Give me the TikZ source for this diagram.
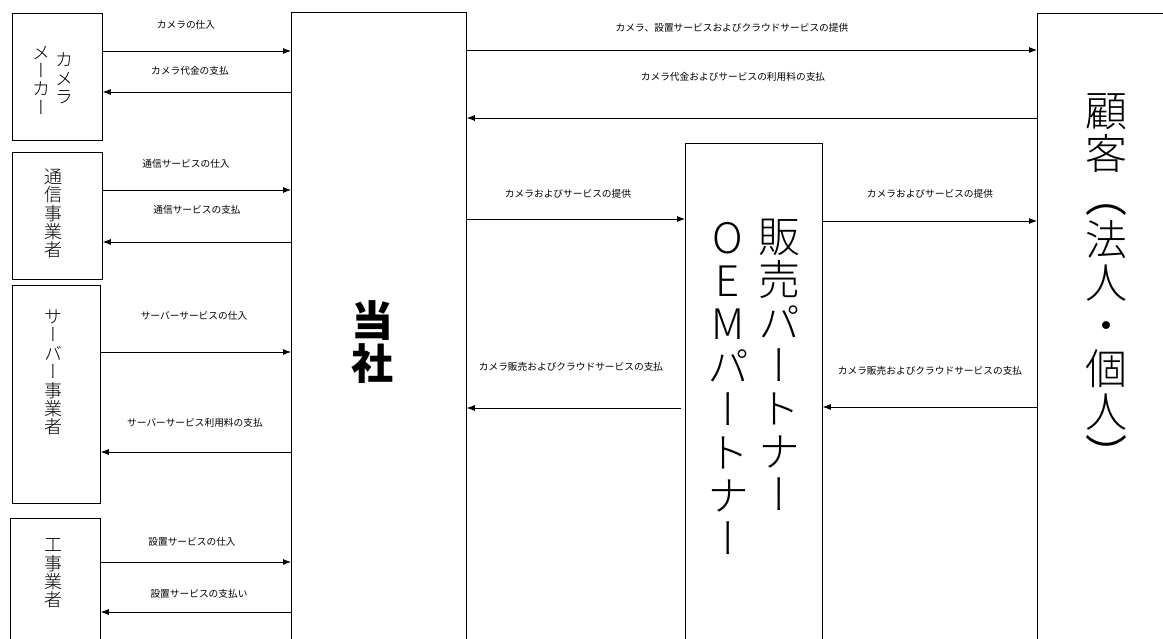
\documentclass[tikz,border=0pt]{standalone}
\usepackage{fontspec}
\usepackage{graphicx}
\usetikzlibrary{arrows.meta}
\newfontfamily\jp{Noto Sans CJK JP}
\newfontfamily\jpv[RawFeature=+vert]{Noto Sans CJK JP Light}
\newcommand\vparl{{\jp\rotatebox[origin=c]{-90}{（}}}
\newcommand\vparr{{\jp\rotatebox[origin=c]{-90}{）}}}
\tikzset{
  box/.style={draw, line width=0.8pt, anchor=north west, inner sep=0pt},
  vsmall/.style={align=center, inner sep=0pt, font=\jpv\fontsize{18}{18.4}\selectfont},
  vbig/.style={align=center, inner sep=0pt, font=\jpv\fontsize{42}{43}\selectfont},
  lbl/.style={inner sep=0pt, font=\jp\fontsize{9.7}{11}\selectfont},
  flow/.style={draw, line width=0.8pt, -{Latex[length=8pt,width=6pt]}}
}
\begin{document}
\begin{tikzpicture}[x=1pt, y=-1pt]
    \useasboundingbox (0,0) rectangle (1163,639);
    \clip (0,0) rectangle (1163,639);

    % Suppliers on the left
    \node[box, minimum width=90pt, minimum height=127pt] (maker) at (12,13) {};
    \node[box, minimum width=90pt, minimum height=127pt] (telco) at (12,152) {};
    \node[box, minimum width=88pt, minimum height=218pt] (server) at (12,285) {};
    \node[box, minimum width=90pt, minimum height=150pt] (works) at (10,518) {};

    \node[vsmall] (makerA) at (65,78.5) {カ\\メ\\ラ};
    \node[vsmall] (makerB) at (41,80) {メ\\ー\\カ\\ー};
    \node[vsmall] (telcoT) at (53,213.5) {通\\信\\事\\業\\者};
    \node[vsmall] (serverT) at (53,372.5) {サ\\ー\\バ\\ー\\事\\業\\者};
    \node[vsmall] (worksT) at (53,573.5) {工\\事\\業\\者};

    % Company, partner and customer
    \node[box, minimum width=175pt, minimum height=660pt] (self) at (291,12) {};
    \node[box, minimum width=137pt, minimum height=520pt] (partner) at (685,143) {};
    \node[box, minimum width=160pt, minimum height=660pt] (cust) at (1037,13) {};

    \node[vbig, font=\jp\bfseries\fontsize{42}{43}\selectfont] (selfT) at (372,342) {当\\社};
    \node[vbig] (partnerA) at (779,365) {販\\売\\パ\\ー\\ト\\ナ\\ー};
    \node[vbig] (partnerB) at (728,388) {O\\E\\M\\パ\\ー\\ト\\ナ\\ー};
    \node[vbig] (custT) at (1106,284.5) {顧\\客\\\vparl\\法\\人\\・\\個\\人\\\vparr};

    % Flows with the suppliers
    \draw[flow] (maker.east |- 0,51) -- (self.west |- 0,51);
    \draw[flow] (self.west |- 0,92) -- (maker.east |- 0,92);
    \draw[flow] (telco.east |- 0,190) -- (self.west |- 0,190);
    \draw[flow] (self.west |- 0,242) -- (telco.east |- 0,242);
    \draw[flow] (server.east |- 0,352) -- (self.west |- 0,352);
    \draw[flow] (self.west |- 0,452) -- (server.east |- 0,452);
    \draw[flow] (works.east |- 0,562) -- (self.west |- 0,562);
    \draw[flow] (self.west |- 0,612) -- (works.east |- 0,612);

    \node[lbl] (l1) at (186,25) {カメラの仕入};
    \node[lbl] (l2) at (190,71) {カメラ代金の支払};
    \node[lbl] (l3) at (186,164) {通信サービスの仕入};
    \node[lbl] (l4) at (197,210) {通信サービスの支払};
    \node[lbl] (l5) at (194,316) {サーバーサービスの仕入};
    \node[lbl] (l6) at (195,423) {サーバーサービス利用料の支払};
    \node[lbl] (l7) at (192,542) {設置サービスの仕入};
    \node[lbl] (l8) at (199,594) {設置サービスの支払い};

    % Flows with the customer
    \draw[flow] (self.east |- 0,50) -- (cust.west |- 0,50);
    \draw[flow] (cust.west |- 0,118) -- (self.east |- 0,118);
    \draw[flow] (self.east |- 0,219) -- (partner.west |- 0,219);
    \draw[flow] (partner.east |- 0,221) -- (cust.west |- 0,221);
    \draw[flow, shorten <=4pt] (partner.west |- 0,408) -- (self.east |- 0,408);
    \draw[flow] (cust.west |- 0,407) -- (partner.east |- 0,407);

    \node[lbl] (r1) at (732,28) {カメラ、設置サービスおよびクラウドサービスの提供};
    \node[lbl] (r2) at (733,77) {カメラ代金およびサービスの利用料の支払};
    \node[lbl] (r3) at (568,194) {カメラおよびサービスの提供};
    \node[lbl] (r4) at (930,194) {カメラおよびサービスの提供};
    \node[lbl] (r5) at (571,367) {カメラ販売およびクラウドサービスの支払};
    \node[lbl] (r6) at (930,371) {カメラ販売およびクラウドサービスの支払};
\end{tikzpicture}
\end{document}
